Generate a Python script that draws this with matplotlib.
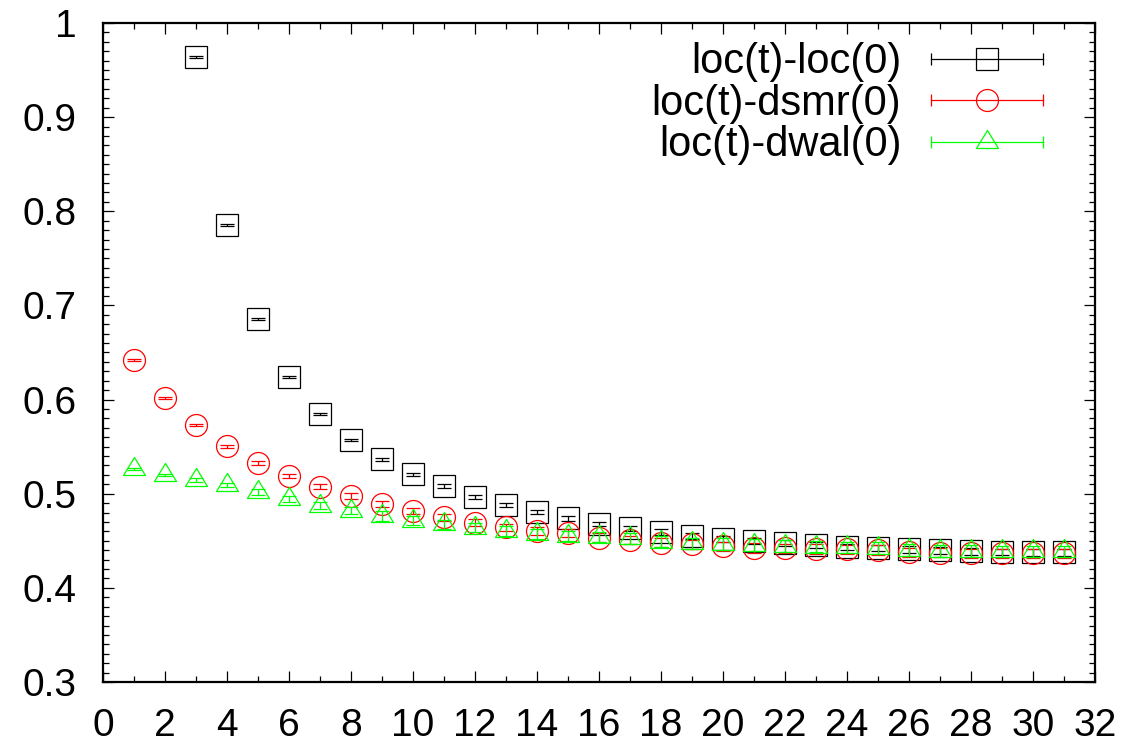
import numpy as np
import matplotlib
matplotlib.use("Agg")
import matplotlib.pyplot as plt
from matplotlib.path import Path
from matplotlib.lines import Line2D
from matplotlib.legend_handler import HandlerLine2D, HandlerTuple
from matplotlib.ticker import MultipleLocator, FormatStrFormatter

plt.rcParams['font.family'] = ['Liberation Sans', 'DejaVu Sans']

# loc(t)-loc(0)  (t=1,2 lie above the plotted range)
t_loc = list(range(3, 32))
y_loc = [0.9636, 0.7858, 0.6856, 0.6237, 0.5844, 0.5567, 0.5366, 0.5206, 0.5079,
         0.4969, 0.4880, 0.4803, 0.4740, 0.4678, 0.4632, 0.4590, 0.4554, 0.4522,
         0.4498, 0.4473, 0.4455, 0.4437, 0.4423, 0.4410, 0.4399, 0.4388, 0.4381,
         0.4378, 0.4376]
e_loc = [0.001, 0.001, 0.001, 0.001, 0.001, 0.0012, 0.0015, 0.0015, 0.002,
         0.002, 0.002, 0.002, 0.0025, 0.0025, 0.003, 0.003, 0.003, 0.003,
         0.003, 0.0032, 0.0032, 0.0034, 0.0034, 0.0035, 0.0035, 0.0035, 0.0036,
         0.0036, 0.0036]

# loc(t)-dsmr(0)
t_dsmr = list(range(1, 32))
y_dsmr = [0.6420, 0.6020, 0.5727, 0.5504, 0.5330, 0.5188, 0.5075, 0.4973, 0.4888,
          0.4816, 0.4750, 0.4692, 0.4643, 0.4604, 0.4580, 0.4533, 0.4508, 0.4480,
          0.4462, 0.4440, 0.4425, 0.4420, 0.4413, 0.4408, 0.4400, 0.4378, 0.4374,
          0.4367, 0.4366, 0.4365, 0.4365]
e_dsmr = [0.001, 0.001, 0.0012, 0.0015, 0.002, 0.002, 0.003, 0.003, 0.003,
          0.003, 0.0035, 0.004, 0.004, 0.004, 0.0045, 0.0045, 0.0045, 0.0045,
          0.0045, 0.005, 0.005, 0.005, 0.005, 0.005, 0.005, 0.005, 0.005,
          0.005, 0.005, 0.005, 0.005]

# loc(t)-dwal(0)
t_dwal = list(range(1, 32))
y_dwal = [0.5259, 0.5203, 0.5149, 0.5090, 0.5015, 0.4944, 0.4873, 0.4820, 0.4763,
          0.4714, 0.4675, 0.4640, 0.4604, 0.4572, 0.4551, 0.4537, 0.4526, 0.4490,
          0.4473, 0.4466, 0.4455, 0.4445, 0.4437, 0.4430, 0.4423, 0.4402, 0.4392,
          0.4390, 0.4388, 0.4387, 0.4387]
e_dwal = [0.001, 0.001, 0.002, 0.002, 0.003, 0.003, 0.004, 0.004, 0.005,
          0.005, 0.005, 0.005, 0.0055, 0.0055, 0.0055, 0.0055, 0.006, 0.006,
          0.006, 0.006, 0.006, 0.006, 0.006, 0.006, 0.006, 0.006, 0.006,
          0.006, 0.006, 0.006, 0.006]

labels = ['loc(t)-loc(0)', 'loc(t)-dsmr(0)', 'loc(t)-dwal(0)']
colors = ['black', '#ff0000', '#00ff00']

# gnuplot-like triangle: data point at the centroid
tri = Path([(0, 1.093), (-1, -0.547), (1, -0.547), (0, 1.093)],
           [Path.MOVETO, Path.LINETO, Path.LINETO, Path.CLOSEPOLY])

fig = plt.figure(figsize=(11.32, 7.46), dpi=100)
ax = fig.add_axes([0.091, 0.0858, 0.8763, 0.8834])

series = [(t_loc, y_loc, e_loc, 's', 15.8),
          (t_dsmr, y_dsmr, e_dsmr, 'o', 15.8),
          (t_dwal, y_dwal, e_dwal, tri, 17.3)]

handles = []
hmap = {}
for (t, y, e, mk, ms), lab, c in zip(series, labels, colors):
    ax.errorbar(t, y, yerr=e, fmt='none', ecolor=c, elinewidth=0.9,
                capsize=5, capthick=0.9)
    ax.plot(t, y, linestyle='none', marker=mk, markersize=ms,
            markerfacecolor='none', markeredgecolor=c, markeredgewidth=0.9)
    line = Line2D([], [], color=c, lw=0.9, marker=mk, markersize=ms,
                  markerfacecolor='none', markeredgecolor=c, markeredgewidth=0.9)
    caps = Line2D([], [], color=c, linestyle='none', marker='|',
                  markersize=9, markeredgewidth=0.9)
    hmap[caps] = HandlerLine2D(numpoints=2, marker_pad=0)
    handles.append((line, caps))

hmap[tuple] = HandlerTuple(ndivide=1, pad=0)
leg = ax.legend(handles, labels, handler_map=hmap, loc='upper right',
                bbox_to_anchor=(0.9476, 0.971), frameon=False, markerfirst=False,
                fontsize=30, handlelength=2.7, handletextpad=0.7,
                labelspacing=0.04, borderpad=0, borderaxespad=0)

ax.set_xlim(0, 32)
ax.set_ylim(0.3, 1.0)
ax.xaxis.set_major_locator(MultipleLocator(2))
ax.xaxis.set_minor_locator(MultipleLocator(1))
ax.yaxis.set_major_locator(MultipleLocator(0.1))
ax.yaxis.set_minor_locator(MultipleLocator(0.01))
ax.yaxis.set_major_formatter(FormatStrFormatter('%g'))

ax.tick_params(which='both', direction='in', top=True, right=True, width=0.9)
ax.tick_params(which='major', length=8, labelsize=28, pad=19)
ax.tick_params(which='minor', length=4)
for s in ax.spines.values():
    s.set_linewidth(1.6)

fig.savefig('out.png', dpi=100)
